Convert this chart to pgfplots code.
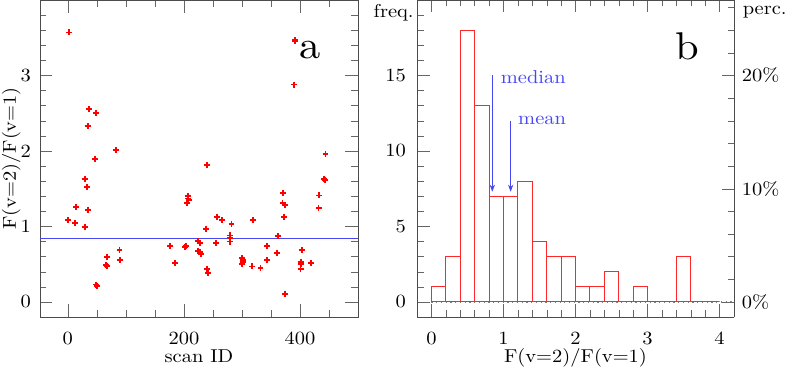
\documentclass[border=0pt]{standalone}
\usepackage{fontspec}
\setmainfont{lmroman10-regular.otf}[FakeStretch=1.1]
\usepackage{pgfplots}
\pgfplotsset{compat=1.18}
\usetikzlibrary{arrows.meta}
\definecolor{lineblue}{RGB}{70,70,245}
\definecolor{histred}{RGB}{255,40,40}
\pgfplotsset{
  panel/.style={scale only axis,height=6.34cm,clip mode=individual,
    axis line style={black!70},tick style={black!60},
    major tick length=0.25cm,minor tick length=0.13cm,tick align=inside,
    font=\fontsize{10.6}{12.7}\selectfont,
    /pgf/number format/assume math mode=true,
    xticklabel style={yshift=-5pt},
    xlabel style={at={(axis description cs:0.5,0)},anchor=base,yshift=-26pt},
  },
}
\begin{document}
\begin{tikzpicture}
% panel a
\begin{axis}[panel,at={(0,0)},anchor=south west,width=6.36cm,
  xmin=-48,xmax=500,ymin=-0.2,ymax=4,
  xtick={0,200,400},minor xtick={50,100,150,250,300,350,450},
  ytick={0,1,2,3},minor ytick={-0.2,0,0.2,...,4},
  yticklabel style={xshift=-1.6pt},
  xlabel={scan ID},ylabel={F(v=2)/F(v=1)},
  ylabel style={at={(axis description cs:-0.0755,0.5)},rotate=0,anchor=base}]
\addplot[lineblue,line width=0.8pt] coordinates {(-48,0.84) (500,0.84)};
\addplot[only marks,mark=+,mark size=1.7pt,red,line width=1.05pt] coordinates {
(2,3.57) (36,2.56) (48,2.50) (34,2.33) (83,2.01) (47,1.89) (391,3.47) (392,3.46)
(390,2.88) (444,1.96) (30,1.63) (33,1.52) (14,1.26) (35,1.22) (0,1.08) (13,1.05)
(29,0.99) (89,0.69) (67,0.60) (68,0.59) (90,0.56) (66,0.49) (67,0.48) (49,0.23)
(50,0.21) (176,0.74) (185,0.52) (202,0.73) (203,0.74) (207,1.40) (208,1.35) (206,1.31)
(207,1.37) (224,0.81) (228,0.78) (225,0.67) (227,0.66) (229,0.63) (240,1.81) (238,0.97)
(240,0.44) (241,0.38) (256,0.78) (257,1.13) (266,1.08) (282,1.03) (279,0.88) (279,0.85)
(280,0.80) (300,0.58) (302,0.56) (301,0.53) (300,0.50) (318,0.47) (319,1.08) (332,0.45)
(343,0.55) (343,0.74) (360,0.65) (362,0.87) (371,1.44) (370,1.31) (374,1.28) (373,1.13)
(374,0.11) (404,0.69) (401,0.52) (402,0.53) (401,0.44) (402,0.50) (419,0.52) (432,1.24)
(433,1.41) (442,1.63) (443,1.62)};
\node[font=\fontsize{22}{26}\selectfont] at (axis cs:417,3.34) {a};
\end{axis}
% panel b, left scale: counts
\begin{axis}[panel,at={(7.54cm,0)},anchor=south west,width=6.34cm,
  xmin=-0.2,xmax=4.2,ymin=-1,ymax=20,axis y line*=left,
  xtick={0,1,2,3,4},minor xtick={0.2,0.4,0.6,0.8,1.2,1.4,1.6,1.8,2.2,2.4,2.6,2.8,3.2,3.4,3.6,3.8},
  ytick={0,5,10,15},minor ytick={-1,0,...,20},
  yticklabel style={xshift=-2.8pt},
  xlabel={F(v=2)/F(v=1)}]
\addplot[black!50,dotted,line width=0.7pt] coordinates {(0,0) (4.2,0)};
\addplot[ybar interval,draw=histred,fill=none,line width=0.6pt] coordinates {
(0,1) (0.2,3) (0.4,18) (0.6,13) (0.8,7) (1.0,7) (1.2,8) (1.4,4) (1.6,3) (1.8,3)
(2.0,1) (2.2,1) (2.4,2) (2.6,0) (2.8,1) (3.0,0) (3.2,0) (3.4,3) (3.6,0) (3.8,0) (4.0,0)};
\draw[lineblue,-{Stealth[length=4pt,width=3pt]}] (axis cs:0.845,15) -- (axis cs:0.845,7.3);
\draw[lineblue,-{Stealth[length=4pt,width=3pt]}] (axis cs:1.10,12) -- (axis cs:1.10,7.3);
\node[lineblue,anchor=west,inner sep=0pt] at (axis cs:0.96,14.9) {median};
\node[lineblue,anchor=west,inner sep=0pt] at (axis cs:1.20,12.0) {mean};
\node[font=\fontsize{22}{26}\selectfont] at (axis cs:3.55,16.9) {b};
\node[anchor=east,inner sep=0pt] at ([xshift=-1.7pt]axis description cs:0,0.959) {freq.};
\end{axis}
% panel b, right scale: percent
\begin{axis}[panel,at={(7.54cm,0)},anchor=south west,width=6.34cm,
  xmin=-0.2,xmax=4.2,ymin=-1.3333,ymax=26.6667,
  axis y line*=right,axis x line=none,
  ytick={0,10,20},yticklabels={0\%,10\%,20\%},
  minor ytick={2,4,6,8,12,14,16,18,22,24,26},
  yticklabel style={xshift=1pt}]
\node[anchor=west,inner sep=0pt] at ([xshift=4.8pt]axis description cs:1,0.963) {perc.};
\end{axis}
\pgfresetboundingbox
\path (-0.8,-1.0) rectangle (14.98,6.34);
\end{tikzpicture}
\end{document}
